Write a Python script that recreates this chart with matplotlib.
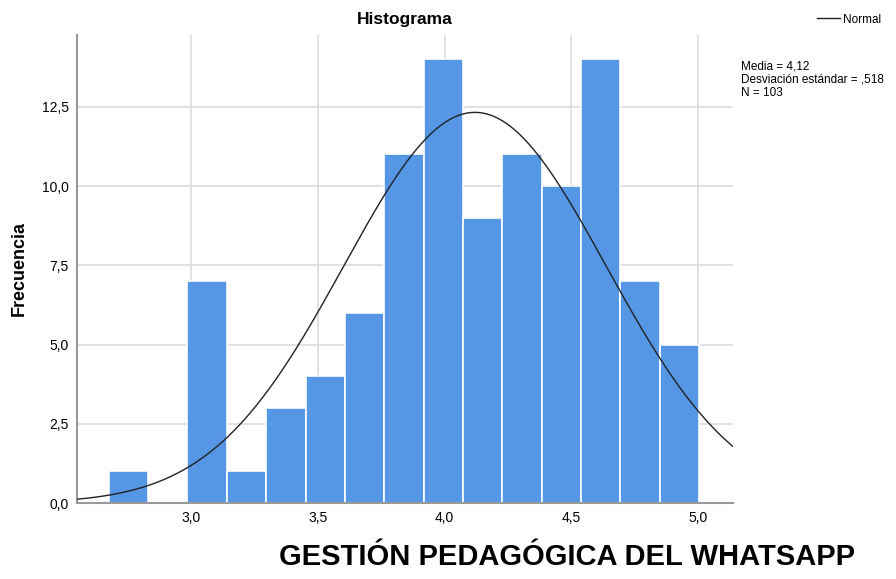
import numpy as np
import matplotlib.pyplot as plt

plt.rcParams['font.family'] = ['Liberation Sans', 'DejaVu Sans']

# Datos del histograma
bin_min = 2.675
bin_max = 5.005
counts = [1, 0, 7, 1, 3, 4, 6, 11, 14, 9, 11, 10, 14, 7, 5]
media = 4.12
desv = 0.518
n = 103

edges = np.linspace(bin_min, bin_max, len(counts) + 1)
width = edges[1] - edges[0]

fig = plt.figure(figsize=(8.96, 5.79), dpi=100)
ax = fig.add_axes([0.086, 0.131, 0.732, 0.809])

ax.bar(edges[:-1], counts, width=width, align='edge', color='#5596e5',
       edgecolor='white', linewidth=1.2, zorder=2)

# curva normal
x = np.linspace(2.55, 5.14, 400)
y = n * width / (desv * np.sqrt(2 * np.pi)) * np.exp(-0.5 * ((x - media) / desv) ** 2)
ax.plot(x, y, color='#222222', linewidth=1.0, zorder=3, label='Normal')

ax.set_xlim(2.55, 5.138)
ax.set_ylim(0, 14.77)
ax.set_xticks([3.0, 3.5, 4.0, 4.5, 5.0])
ax.set_xticklabels(['3,0', '3,5', '4,0', '4,5', '5,0'])
ax.set_yticks([0, 2.5, 5, 7.5, 10, 12.5])
ax.set_yticklabels(['0,0', '2,5', '5,0', '7,5', '10,0', '12,5'])
ax.grid(True, color='#dcdcdc', linewidth=1.2, zorder=0)
ax.set_axisbelow(True)
ax.tick_params(length=0, labelsize=10, pad=6)
for s in ['top', 'right']:
    ax.spines[s].set_visible(False)
for s in ['left', 'bottom']:
    ax.spines[s].set_color('#999999')
    ax.spines[s].set_linewidth(1.5)

ax.set_title('Histograma', fontsize=12.5, fontweight='bold', pad=8)
ax.set_ylabel('Frecuencia', fontsize=13, fontweight='bold', labelpad=10)
fig.text(0.633, 0.038, 'GESTIÓN PEDAGÓGICA DEL WHATSAPP', fontsize=21,
         fontweight='bold', ha='center', va='center')

fig.legend(loc='upper right', bbox_to_anchor=(0.995, 0.995), frameon=False,
           fontsize=8.5, handlelength=2.0, handletextpad=0.2)
fig.text(0.827, 0.895, 'Media = 4,12\nDesviación estándar = ,518\nN = 103',
         fontsize=8.5, va='top', ha='left', linespacing=1.1)

fig.savefig('out.png', dpi=100)
